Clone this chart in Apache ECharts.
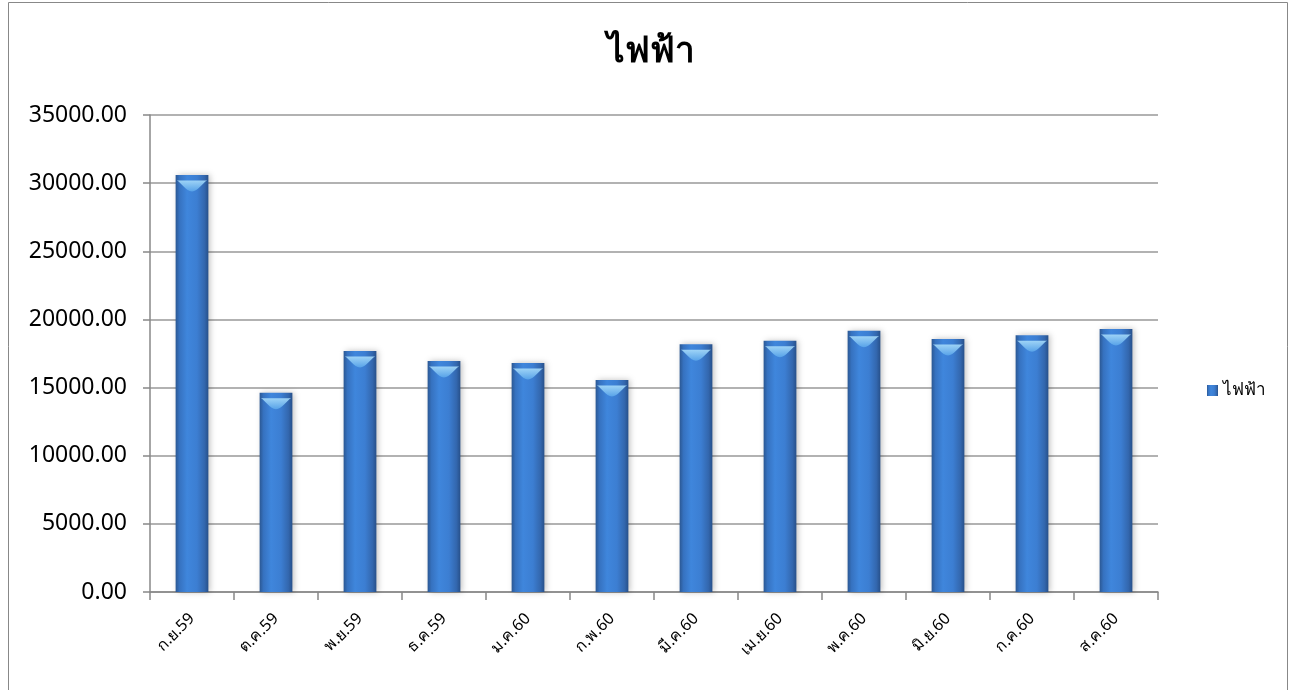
<!DOCTYPE html>
<html><head><meta charset="utf-8">
<script src="https://cdn.jsdelivr.net/npm/echarts@6/dist/echarts.min.js"></script>
<style>html,body{margin:0;padding:0;background:#fff}#c{width:1291px;height:690px}</style>
</head><body><div id="c"></div>
<script>
const categories = ['ก.ย.59','ต.ค.59','พ.ย.59','ธ.ค.59','ม.ค.60','ก.พ.60','มี.ค.60','เม.ย.60','พ.ค.60','มิ.ย.60','ก.ค.60','ส.ค.60'];
const electricity = [30600, 14620, 17680, 16950, 16800, 15550, 18170, 18440, 19170, 18560, 18830, 19300];
const seriesName = 'ไฟฟ้า';
const titleText = 'ไฟฟ้า';

const chart = echarts.init(document.getElementById('c'));
const barGrad = new echarts.graphic.LinearGradient(0,0,1,0,[
  {offset:0,color:'#2b5893'},
  {offset:0.12,color:'#3672c0'},
  {offset:0.35,color:'#3f86dc'},
  {offset:0.65,color:'#3c7ed2'},
  {offset:0.88,color:'#3367ae'},
  {offset:1,color:'#27508a'}
]);
const capGrad = new echarts.graphic.LinearGradient(0,0,0,1,[
  {offset:0,color:'#a8dcfa'},
  {offset:1,color:'#5aa6ea'}
]);
chart.setOption({
  animation:false,
  backgroundColor:'#fff',
  graphic:[{type:'rect',shape:{x:8.5,y:2.5,width:1279,height:700},style:{fill:null,stroke:'#888',lineWidth:1},silent:true,z:-1}],
  title:{text:titleText,left:646,top:30,textAlign:'center',textStyle:{fontSize:35,fontWeight:'bold',color:'#000',fontFamily:'Noto Sans, sans-serif'}},
  legend:{data:[seriesName],left:1202,top:377,icon:'rect',itemWidth:11,itemHeight:11,itemGap:4,textStyle:{fontSize:17,color:'#000',fontFamily:'Noto Sans, sans-serif'}},
  grid:{left:150,right:133,top:115,bottom:98,containLabel:false},
  xAxis:{type:'category',data:categories,
    axisLine:{lineStyle:{color:'#888',width:1.5}},
    axisTick:{show:true,length:8,lineStyle:{color:'#888',width:1.5}},
    axisLabel:{rotate:45,fontSize:16,color:'#000',margin:24,interval:0,fontFamily:'Noto Sans, sans-serif'}},
  yAxis:{type:'value',min:0,max:35000,interval:5000,
    axisLine:{show:true,lineStyle:{color:'#888',width:1.5}},
    axisTick:{show:true,length:7,lineStyle:{color:'#888',width:1.5}},
    splitLine:{lineStyle:{color:'#999',width:1.5}},
    axisLabel:{fontSize:23,color:'#000',margin:23,fontFamily:'Noto Sans, sans-serif',formatter:v=>v.toFixed(2)}},
  series:[{name:seriesName,type:'bar',data:electricity,barWidth:'39%',
    itemStyle:{color:barGrad,shadowColor:'rgba(0,0,0,0.25)',shadowBlur:6,shadowOffsetX:2,shadowOffsetY:0}},
    {type:'pictorialBar',data:electricity,symbol:'path://M0,0 L10,0 C8.5,0.8 7,4 5,4 C3,4 1.5,0.8 0,0 Z',symbolSize:['92%',11],symbolPosition:'end',symbolOffset:[0,'50%'],barWidth:'39%',barGap:'-100%',
     itemStyle:{color:capGrad,opacity:0.9},silent:true,z:3}]
});
</script></body></html>
